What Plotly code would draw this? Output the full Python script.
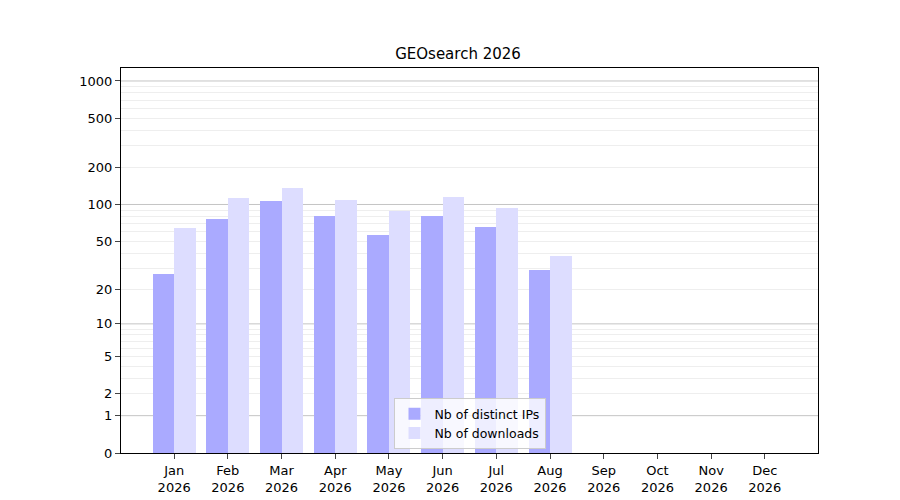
import numpy as np
import plotly.graph_objects as go

months = ['Jan', 'Feb', 'Mar', 'Apr', 'May', 'Jun', 'Jul', 'Aug', 'Sep', 'Oct', 'Nov', 'Dec']
year = '2026'
distinct_ips = [27, 76, 106, 80, 56, 80, 65, 29]
downloads = [64, 113, 137, 109, 89, 115, 93, 38]
tick_vals = [0, 1, 2, 5, 10, 20, 50, 100, 200, 500, 1000]

def tr(v):
  # axis scale is log10(1 + y)
  return np.log10(1 + np.asarray(v, dtype=float))

x = np.arange(len(months))
fig = go.Figure()
fig.add_trace(go.Bar(x=x[:len(distinct_ips)] - 0.2, y=tr(distinct_ips), width=0.4,
                     name='Nb of distinct IPs', marker=dict(color='#aaaaff', line=dict(width=0)),
                     customdata=distinct_ips, hovertemplate='%{customdata}'))
fig.add_trace(go.Bar(x=x[:len(downloads)] + 0.2, y=tr(downloads), width=0.4,
                     name='Nb of downloads', marker=dict(color='#ddddff', line=dict(width=0)),
                     customdata=downloads, hovertemplate='%{customdata}'))

major_grid = [1, 10, 100, 1000]
minor = []
for dec in [1, 10, 100, 1000]:
  for m in range(2, 10):
    minor.append(dec * m)

fig.update_layout(
  width=900, height=500, plot_bgcolor='white', paper_bgcolor='white',
  font=dict(family='DejaVu Sans', size=12, color='black'),
  title=dict(text='GEOsearch ' + year, x=0.5, xanchor='center', y=0.908, yanchor='middle',
             font=dict(size=15)),
  margin=dict(l=113, r=90, t=60, b=55, autoexpand=False),
  barmode='overlay', bargap=0,
  legend=dict(x=0.5, y=0.01, xanchor='center', yanchor='bottom', bgcolor='rgba(255,255,255,0.8)',
              bordercolor='#cccccc', borderwidth=1, font=dict(size=12.5)),
)
fig.update_xaxes(range=[-0.99, 11.99], tickvals=list(x),
                 ticktext=[m + '<br>' + year for m in months], automargin=False,
                 showline=True, linecolor='black', mirror=True, ticks='outside',
                 showgrid=False, zeroline=False, tickfont=dict(size=13))
fig.update_yaxes(range=[0, 3.105], tickvals=list(tr(tick_vals)), ticktext=[str(v) for v in tick_vals],
                 showline=True, linecolor='black', mirror=True, ticks='outside', automargin=False,
                 showgrid=False, zeroline=False, tickfont=dict(size=13),
                 minor=dict(tickvals=list(tr(minor)), showgrid=True, gridcolor='#eeeeee', ticks=''))
for v in major_grid:
  fig.add_hline(y=float(tr(v)), line=dict(color='#c4c4c4', width=1), layer='below')

fig.write_html("out.html")
